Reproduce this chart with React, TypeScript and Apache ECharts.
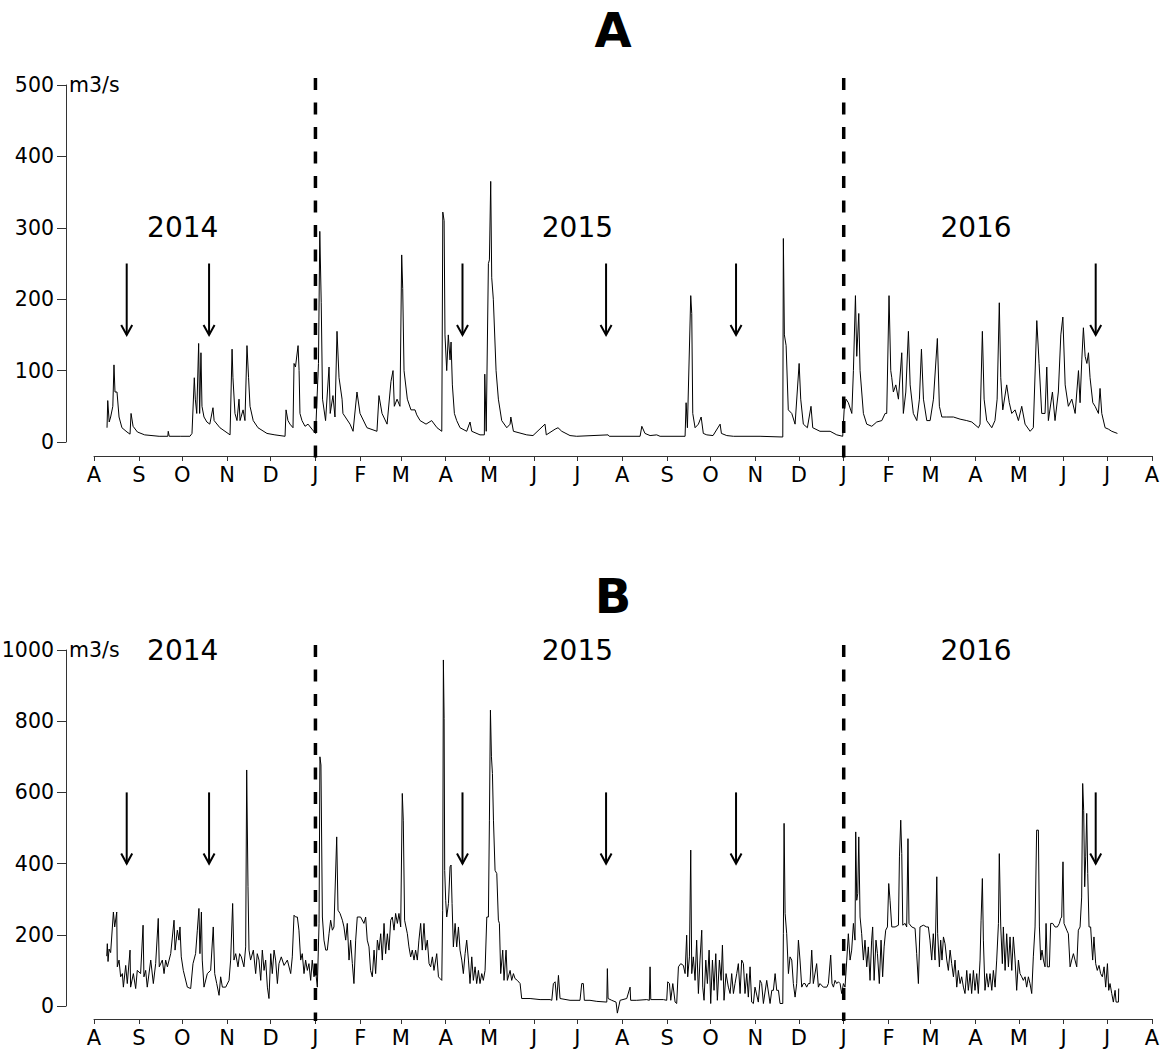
import React, { useEffect, useRef } from "react";
import * as echarts from "echarts";

// x values are days since 2014-08-01 (axis runs to 2016-08-01)
const START_UTC = Date.UTC(2014, 7, 1);
const END_DAY = 731;
const FONT = "DejaVu Sans";

const monthInitials = ["J", "F", "M", "A", "M", "J", "J", "A", "S", "O", "N", "D"];

const panelTitles = ["A", "B"];
const yearLabels = ["2014", "2015", "2016"];
const yearDays = [61.3, 334, 609.4];
const yearValueA = 300;
const yearValueB = 1000;

const dividerDays = [153, 518]; // 2015-01-01, 2016-01-01
const arrowDays = [22.6, 79.5, 254.6, 353.8, 443.6, 692.1];
const arrowFromToA = [250, 150];
const arrowFromToB = [600, 400];

const yMaxA = 500;
const yStepA = 100;
const yMaxB = 1000;
const yStepB = 200;
const unitLabel = "m3/s";

// Panel A discharge (m3/s)
const flowA: [number, number][] = [
  [9, 20], [9.5, 58], [10.5, 28], [11.5, 35], [13, 50], [13.8, 108], [14.5, 70], [15.9, 70], [17.3, 35], [19.3, 20],
  [22.8, 14], [24.9, 11], [25.6, 40], [27, 22], [30, 14], [35, 10], [45, 8], [51, 8], [51.3, 15], [52, 8],
  [60, 8], [66.3, 8], [67.7, 12], [69.3, 90], [70, 60], [71, 40], [72.3, 138], [73, 40], [73.9, 125], [74.6, 50],
  [76, 35], [78, 28], [80, 25], [82.2, 48], [83, 30], [87, 20], [94, 10], [95.4, 130], [96, 90], [97.4, 40],
  [98.8, 30], [100.2, 60], [100.9, 30], [103, 45], [104.3, 30], [105.7, 135], [106.8, 90], [107.8, 50], [110, 30], [113.3, 20],
  [119.5, 12], [125, 10], [132, 8], [132.7, 45], [134, 30], [135.4, 25], [137.5, 20], [138.2, 110], [139.2, 105], [141, 135],
  [141.7, 100], [142.3, 40], [143.7, 30], [145.8, 22], [147.9, 25], [150.6, 18], [153.1, 12], [155.1, 110], [156, 295], [157, 195],
  [157.9, 60], [160, 30], [162.4, 105], [163.2, 40], [165.1, 65], [166.5, 35], [167.9, 155], [169.3, 90], [171.4, 60], [172, 40],
  [176.9, 25], [179, 15], [181.7, 70], [183.8, 40], [188.6, 20], [195.5, 15], [196.9, 65], [199, 40], [202.5, 25], [205.2, 85],
  [206.6, 100], [207.5, 50], [209.4, 60], [211.4, 50], [212.6, 262], [213.3, 215], [214.2, 100], [216.5, 60], [219, 45], [221.8, 45],
  [223, 38], [225.3, 30], [229.4, 25], [233.3, 30], [237, 20], [240.3, 15], [241, 322], [241.9, 310], [242.5, 150], [243.7, 100],
  [244.8, 150], [246, 115], [246.7, 140], [247.6, 80], [249, 40], [250.6, 30], [252.9, 20], [257.5, 15], [259.8, 28], [261, 15],
  [266.7, 10], [269.7, 10], [270, 95], [271, 15], [272.5, 250], [273.2, 255], [274.1, 365], [274.8, 230], [275.9, 200], [277.8, 100],
  [279.4, 60], [281.7, 30], [285.2, 20], [287.5, 25], [288, 35], [289.8, 15], [299, 10], [303.3, 9], [311.6, 25], [312.5, 10],
  [318.6, 18], [320.6, 20], [323.2, 15], [328.9, 9], [333.5, 8], [355.2, 10], [356, 8], [377.3, 8], [378.5, 22], [380.7, 12],
  [384.2, 9], [388.8, 10], [391.1, 8], [408.4, 8], [409.1, 55], [410, 20], [412.3, 205], [413, 180], [413.7, 40], [415.3, 20],
  [417.6, 25], [419.5, 35], [421, 12], [423.4, 10], [427.7, 9], [432.6, 25], [433.5, 12], [437.2, 9], [441.8, 8], [460.2, 8],
  [475.9, 7], [476.3, 285], [477, 150], [478.2, 135], [479.7, 45], [482.1, 40], [484.4, 25], [487.2, 110], [488.3, 60], [490.1, 25],
  [492.9, 20], [495.4, 50], [496.6, 20], [501.6, 15], [508.6, 15], [513.2, 10], [517.3, 8], [518.3, 45], [519.6, 60], [521.2, 55],
  [523.6, 40], [524.7, 100], [526.1, 205], [527, 120], [528.4, 180], [529.3, 100], [531.6, 40], [533.9, 25], [537.4, 22], [540.8, 28],
  [544.3, 30], [546.6, 40], [547.7, 40], [549.3, 205], [550.5, 100], [551.2, 90], [552.3, 70], [554, 80], [555.8, 60], [558.1, 125],
  [559.2, 40], [560.9, 70], [562.7, 155], [563.9, 80], [566.1, 40], [568.5, 30], [570.3, 60], [571.7, 130], [573.1, 60], [575.4, 30],
  [577.7, 30], [580, 60], [582.7, 145], [584.1, 50], [585.8, 35], [589.2, 35], [593.8, 35], [598.4, 32], [603, 30], [606.5, 28],
  [611.1, 20], [612.2, 25], [613.8, 155], [615, 60], [616.8, 30], [620.3, 20], [622.5, 30], [624, 60], [625.5, 195], [626.5, 90],
  [627.9, 45], [630.6, 80], [632.4, 55], [634.1, 40], [636.4, 45], [638.7, 30], [641, 50], [643.3, 25], [646.8, 15], [649, 20],
  [651.4, 170], [653, 110], [654.8, 40], [657.1, 40], [658.3, 105], [659.4, 30], [662.2, 70], [664, 30], [666.3, 70], [668, 150],
  [669.4, 175], [671, 80], [673.2, 50], [675.6, 60], [677.9, 40], [680.2, 100], [681.3, 55], [682.5, 115], [683.6, 160], [684.8, 120],
  [686, 110], [687.1, 125], [688.2, 90], [690.1, 55], [691.7, 50], [694, 40], [695.1, 75], [696.3, 40], [698.6, 20], [700.9, 18],
  [703.2, 15], [707.1, 12],
];

// Panel B discharge (m3/s)
const flowB: [number, number][] = [
  [8.8, 140], [9.2, 175], [9.7, 125], [10.4, 160], [11.5, 150], [13.4, 264], [14.3, 222], [15.7, 264], [16.1, 110], [17.3, 129],
  [18.4, 82], [19.6, 91], [20.3, 53], [21.9, 114], [23, 63], [24.9, 157], [25.3, 53], [27.2, 91], [28.8, 49], [29.9, 100],
  [32.2, 91], [33.9, 227], [34.5, 82], [35.7, 100], [36.8, 53], [39.2, 129], [41, 63], [42.6, 119], [44.4, 246], [45.1, 110],
  [47.2, 129], [48.4, 91], [49.5, 129], [50.7, 110], [53, 147], [55.3, 241], [56, 157], [57.6, 213], [58.7, 185], [59.4, 222],
  [60.3, 138], [61.7, 100], [64.5, 53], [66.8, 49], [68.4, 119], [70.2, 147], [71.4, 213], [72.5, 274], [73.2, 147], [74.2, 264],
  [74.8, 129], [76, 53], [78.3, 91], [80.6, 100], [82.4, 222], [83.4, 91], [84.8, 63], [86.4, 30], [87.5, 82], [88.7, 53],
  [91, 53], [93.3, 72], [94.4, 129], [95.8, 288], [96.7, 129], [97.9, 147], [99.5, 110], [100.6, 147], [101.8, 138], [103.6, 110],
  [104.8, 166], [105.5, 663], [106.4, 335], [107.1, 157], [108.2, 129], [110.1, 157], [111.7, 91], [112.8, 147], [114, 129], [115.2, 72],
  [116.3, 157], [117.5, 100], [118.6, 129], [119.8, 53], [120.9, 21], [122.1, 147], [123.2, 91], [124.4, 157], [125.5, 129], [126.7, 63],
  [127.8, 119], [129.4, 138], [131.3, 114], [133.6, 129], [135.9, 91], [137, 138], [138.2, 255], [139.3, 250], [140.5, 250], [141.6, 213],
  [142.8, 129], [143.9, 147], [145.1, 91], [146.2, 129], [147.4, 100], [148.5, 119], [149.7, 72], [150.8, 129], [152, 82], [153.1, 100],
  [154.3, 53], [155.5, 231], [156.1, 700], [156.8, 677], [157.8, 250], [158.9, 185], [160.1, 157], [161.2, 157], [162.4, 203], [163.5, 241],
  [164.7, 213], [165.8, 222], [167.7, 475], [168.6, 269], [170, 260], [171.6, 241], [172.7, 222], [173.9, 185], [175, 232], [176.2, 129],
  [177.3, 185], [178.5, 119], [179.6, 63], [180.8, 185], [181.9, 250], [183.1, 250], [184.2, 250], [186.5, 232], [187.7, 250], [188.8, 185],
  [190, 166], [191.1, 100], [192.3, 82], [193.5, 157], [194.6, 91], [195.8, 185], [196.9, 157], [198.1, 203], [199.2, 129], [200.4, 232],
  [201.5, 147], [202.7, 203], [203.8, 157], [205, 241], [206.1, 250], [207.3, 213], [208.4, 260], [209.6, 232], [210.7, 260], [211.9, 222],
  [213, 597], [213.7, 522], [214.6, 241], [216.5, 203], [217.6, 166], [218.8, 138], [219.9, 157], [221.1, 129], [222.2, 157], [223.4, 129],
  [224.5, 185], [225.7, 232], [226.8, 157], [228, 232], [229.1, 157], [230.3, 185], [231.5, 119], [232.6, 110], [233.8, 138], [234.9, 100],
  [236.8, 147], [238, 82], [239.1, 77], [240.3, 72], [240.9, 269], [241.4, 972], [241.9, 808], [242.3, 381], [243, 297], [243.7, 250],
  [244.9, 288], [246, 391], [246.7, 396], [247.4, 288], [248.3, 166], [249.5, 232], [250.6, 166], [251.8, 222], [252.9, 157], [254.1, 129],
  [255.2, 91], [256.4, 147], [257.5, 185], [258.7, 129], [259.8, 63], [261, 138], [262.1, 72], [263.3, 110], [264.4, 63], [265.6, 100],
  [266.7, 63], [267.9, 91], [269, 72], [270.2, 100], [271.4, 250], [272.5, 250], [273.2, 522], [273.9, 831], [274.6, 700], [275.3, 653],
  [276, 522], [277.1, 381], [278.3, 372], [279.4, 241], [280.1, 232], [281, 91], [282.4, 157], [283.3, 72], [284.7, 157], [285.6, 72],
  [287.5, 100], [288.6, 72], [289.8, 91], [290.9, 77], [292.5, 72], [294.4, 63], [295.5, 21], [301.3, 21], [308.2, 18], [315.1, 18],
  [316.3, 16], [317.4, 63], [318.6, 68], [319.7, 16], [320.9, 86], [322, 21], [328.9, 16], [335.8, 16], [337, 63], [338.1, 63],
  [338.8, 16], [342.7, 16], [347.4, 13], [354.3, 11], [354.7, 105], [355.2, 21], [357.7, 16], [360.7, 11], [361.6, -20], [363.5, 16],
  [368.1, 21], [370.4, 53], [370.8, 16], [375, 16], [381.9, 18], [383.7, 16], [384.2, 110], [384.7, 18], [393.4, 18], [395.7, 16],
  [396.4, 68], [397.6, 63], [398.5, 16], [399.9, 63], [401.5, 11], [402.6, 7], [403.8, 110], [405.4, 119], [407.2, 114], [408.4, 91],
  [409.5, 199], [410.2, 82], [411.4, 138], [412.3, 438], [413, 91], [414.1, 138], [415.3, 72], [416.4, 185], [417.6, 35], [418.7, 129],
  [419.9, 213], [420.6, 53], [421.5, 16], [422.7, 129], [423.8, 63], [425, 157], [426.1, 7], [427.3, 129], [428.4, 44], [429.6, 147],
  [430.7, 16], [432.1, 129], [433.3, 72], [434.2, 171], [435.3, 16], [436.7, 91], [438.3, 53], [439.5, 35], [440.6, 91], [441.8, 35],
  [442.9, 63], [444.1, 91], [445.2, 119], [446.4, 35], [447.5, 129], [448.7, 119], [449.8, 35], [451, 91], [452.1, 25], [453.3, 110],
  [454.4, 11], [455.6, 7], [456.7, 53], [459, 11], [460.2, 72], [461.3, 63], [462.5, 7], [464.8, 72], [467.1, 7], [468.3, 44],
  [469.4, 44], [470.6, 91], [471.7, 44], [472.9, 44], [474, 7], [475.9, 7], [476.3, 203], [476.8, 513], [477.5, 260], [478.6, 203],
  [479.8, 91], [480.9, 138], [482.1, 129], [483.2, 63], [484.4, 25], [485.5, 63], [486.7, 185], [487.8, 129], [489, 53], [490.1, 63],
  [491.3, 63], [492.4, 53], [493.6, 63], [494.7, 63], [495.9, 157], [497, 63], [499.3, 119], [500.5, 53], [501.6, 63], [503.9, 53],
  [506.3, 53], [507.4, 63], [509, 143], [509.9, 63], [510.9, 53], [512, 72], [513.2, 63], [514.3, 68], [515.5, 63], [516.6, 35],
  [517.8, 63], [518.9, 53], [520.1, 129], [521.2, 203], [522.4, 129], [523.5, 157], [524.7, 232], [525.8, 185], [526.3, 489], [527, 297],
  [527.7, 316], [528.4, 475], [529.3, 250], [530.4, 203], [531.6, 129], [532.7, 185], [533.9, 110], [535, 166], [536.2, 72], [537.3, 185],
  [538, 222], [539, 72], [540.3, 185], [541.3, 147], [542.6, 63], [543.8, 185], [544.9, 82], [545.9, 166], [547, 213], [548.2, 222],
  [549.1, 344], [550, 297], [551.2, 222], [553.5, 222], [555.8, 227], [556.5, 419], [557.4, 522], [558.1, 428], [558.8, 227], [560.4, 232],
  [561.5, 222], [562.4, 470], [563.1, 232], [565, 222], [567.3, 218], [568.4, 147], [569.6, 63], [570.7, 222], [573, 227], [575.3, 222],
  [576.5, 222], [577.6, 185], [578.8, 129], [579.9, 203], [581.1, 129], [582.3, 363], [582.9, 203], [584.1, 110], [585, 185], [585.9, 129],
  [586.9, 194], [588, 175], [589.2, 129], [590.3, 100], [591.5, 157], [592.6, 119], [593.8, 82], [594.9, 129], [596.1, 53], [597.2, 100],
  [598.4, 63], [599.5, 82], [600.7, 53], [601.8, 35], [603, 100], [604.1, 44], [605.3, 91], [606.4, 35], [607.6, 100], [608.7, 44],
  [609.9, 91], [611, 35], [612.2, 129], [612.9, 241], [613.8, 358], [614.5, 185], [615.6, 44], [616.8, 91], [617.9, 53], [619.1, 91],
  [620.3, 44], [621.4, 100], [622.6, 53], [623.7, 129], [624.9, 232], [625.5, 428], [626.5, 222], [627.6, 119], [628.3, 222], [629.5, 100],
  [630.6, 203], [631.8, 110], [632.9, 194], [634.1, 100], [635.2, 194], [636.4, 129], [637.5, 44], [638.7, 129], [639.8, 91], [641, 82],
  [642.1, 72], [643.3, 82], [644.4, 53], [645.6, 82], [646.7, 63], [647.9, 35], [649, 138], [650.2, 222], [651.3, 494], [652.5, 494],
  [653.2, 222], [654.1, 129], [655, 157], [656, 129], [657.1, 110], [657.8, 232], [658.7, 110], [660.1, 110], [661, 232], [662.4, 232],
  [664, 222], [665.6, 222], [667, 232], [667.9, 246], [668.6, 250], [669.5, 405], [670.2, 232], [672.1, 213], [673.2, 203], [674.4, 110],
  [675.5, 129], [676.7, 147], [677.8, 129], [679, 110], [680.1, 213], [681.3, 222], [682.4, 306], [683.1, 625], [683.8, 550], [684.5, 335],
  [685.2, 419], [685.9, 541], [686.6, 372], [687.5, 222], [688.6, 222], [690, 129], [690.9, 194], [692.1, 119], [693.2, 100], [694.4, 114],
  [695.5, 91], [696.7, 82], [697.9, 110], [699, 53], [700.2, 119], [701.1, 44], [702, 63], [703.2, 35], [704.3, 11], [705.5, 44],
  [706.2, 11], [707.8, 11], [708, 49],
];

// one category per day, used for the month ticks/labels
const dayCategories: string[] = [];
for (let i = 0; i <= END_DAY; i++) {
  dayCategories.push(new Date(START_UTC + i * 86400000).toISOString().slice(0, 10));
}
const isMonthStart = (_i: number, v: string) => typeof v === "string" && v.endsWith("-01");

const AXIS_COLOR = "#333";

function monthAxis(gridIndex: number, offset: number) {
  return {
    type: "category",
    gridIndex,
    data: dayCategories,
    boundaryGap: false,
    position: "bottom",
    offset,
    axisLine: { show: true, onZero: false, lineStyle: { color: AXIS_COLOR, width: 1 } },
    axisTick: { show: true, interval: isMonthStart, length: 5, lineStyle: { color: AXIS_COLOR, width: 1 } },
    axisLabel: {
      interval: isMonthStart,
      formatter: (v: string) => monthInitials[Number(v.slice(5, 7)) - 1],
      color: "#000",
      fontSize: 21,
      fontFamily: FONT,
      margin: 8,
      hideOverlap: false,
    },
    splitLine: { show: false },
  };
}

function dayAxis(gridIndex: number) {
  return { type: "value", gridIndex, min: 0, max: END_DAY, show: false, position: "bottom" };
}

function flowAxis(gridIndex: number, max: number, interval: number) {
  return {
    type: "value",
    gridIndex,
    min: 0,
    max,
    interval,
    position: "left",
    offset: 28,
    name: unitLabel,
    nameLocation: "end",
    nameGap: 0,
    nameTextStyle: { align: "left", verticalAlign: "middle", padding: [0, 0, 0, 3], fontSize: 20.5, fontFamily: FONT, color: "#000" },
    axisLine: { show: true, onZero: false, lineStyle: { color: AXIS_COLOR, width: 1 } },
    axisTick: { show: true, length: 9, lineStyle: { color: AXIS_COLOR, width: 1 } },
    axisLabel: { color: "#000", fontSize: 20.5, fontFamily: FONT, margin: 12, formatter: (v: number) => String(v) },
    splitLine: { show: false },
  };
}

function flowSeries(data: [number, number][], xAxisIndex: number, yAxisIndex: number) {
  return {
    type: "line",
    xAxisIndex,
    yAxisIndex,
    data,
    symbol: "none",
    showSymbol: false,
    clip: false,
    silent: true,
    lineStyle: { color: "#000", width: 1 },
    emphasis: { disabled: true },
  };
}

function dividerSeries(xAxisIndex: number, yAxisIndex: number, yMax: number, extTop: number, extBottom: number) {
  return {
    type: "custom",
    xAxisIndex,
    yAxisIndex,
    silent: true,
    clip: false,
    data: dividerDays.map((d) => [d, 0]),
    renderItem: (_p: any, api: any) => {
      const x = api.value(0);
      const top = api.coord([x, yMax]);
      const bot = api.coord([x, 0]);
      return {
        type: "line",
        shape: { x1: top[0], y1: top[1] - extTop, x2: bot[0], y2: bot[1] + extBottom },
        style: { stroke: "#000", lineWidth: 3.5, lineDash: [12, 12.5] },
      };
    },
  };
}

function arrowSeries(xAxisIndex: number, yAxisIndex: number, fromTo: number[]) {
  return {
    type: "custom",
    xAxisIndex,
    yAxisIndex,
    silent: true,
    clip: false,
    data: arrowDays.map((d) => [d, fromTo[0], fromTo[1]]),
    renderItem: (_p: any, api: any) => {
      const x = api.value(0);
      const p1 = api.coord([x, api.value(1)]);
      const p2 = api.coord([x, api.value(2)]);
      return {
        type: "group",
        children: [
          { type: "line", shape: { x1: p1[0], y1: p1[1], x2: p2[0], y2: p2[1] }, style: { stroke: "#000", lineWidth: 2 } },
          {
            type: "polyline",
            shape: { points: [[p2[0] - 5.5, p2[1] - 10], [p2[0], p2[1]], [p2[0] + 5.5, p2[1] - 10]] },
            style: { stroke: "#000", lineWidth: 2, fill: null },
          },
        ],
      };
    },
  };
}

function yearSeries(xAxisIndex: number, yAxisIndex: number, yValue: number) {
  return {
    type: "custom",
    xAxisIndex,
    yAxisIndex,
    silent: true,
    clip: false,
    data: yearDays.map((d) => [d, yValue]),
    renderItem: (p: any, api: any) => {
      const pt = api.coord([api.value(0), api.value(1)]);
      return {
        type: "text",
        x: pt[0],
        y: pt[1],
        style: {
          text: yearLabels[p.dataIndex],
          fontSize: 28,
          fontFamily: FONT,
          fill: "#000",
          align: "center",
          verticalAlign: "middle",
        },
      };
    },
  };
}

export default function App() {
  const ref = useRef<HTMLDivElement>(null);
  useEffect(() => {
    document.body.style.margin = "0";
    const chart = echarts.init(ref.current!, null, { renderer: "svg" });
    chart.setOption({
      animation: false,
      backgroundColor: "#fff",
      grid: [
        { left: 94, right: 19, top: 85, height: 357, containLabel: false, outerBoundsMode: "none" },
        { left: 94, right: 19, top: 650, height: 356, containLabel: false, outerBoundsMode: "none" },
      ],
      xAxis: [monthAxis(0, 14), dayAxis(0), monthAxis(1, 13), dayAxis(1)],
      yAxis: [flowAxis(0, yMaxA, yStepA), flowAxis(1, yMaxB, yStepB)],
      series: [
        flowSeries(flowA, 1, 0),
        flowSeries(flowB, 3, 1),
        dividerSeries(1, 0, yMaxA, 7, 22),
        dividerSeries(3, 1, yMaxB, 5, 15),
        arrowSeries(1, 0, arrowFromToA),
        arrowSeries(3, 1, arrowFromToB),
        yearSeries(1, 0, yearValueA),
        yearSeries(3, 1, yearValueB),
      ],
      graphic: [
        {
          type: "text",
          x: 613,
          y: 30,
          style: { text: panelTitles[0], fontSize: 48, fontWeight: "bold", fontFamily: FONT, fill: "#000", align: "center", verticalAlign: "middle" },
        },
        {
          type: "text",
          x: 613,
          y: 596,
          style: { text: panelTitles[1], fontSize: 48, fontWeight: "bold", fontFamily: FONT, fill: "#000", align: "center", verticalAlign: "middle" },
        },
      ],
    });
    return () => chart.dispose();
  }, []);
  return <div ref={ref} style={{ position: "absolute", left: 0, top: 0, width: 1171, height: 1054 }} />;
}
